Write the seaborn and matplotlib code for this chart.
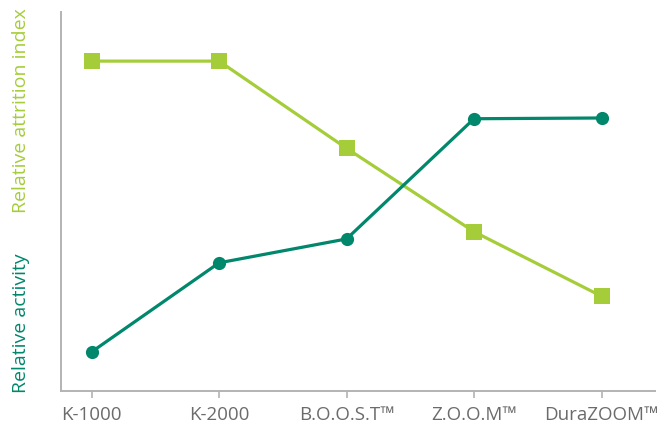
import pandas as pd
import matplotlib
matplotlib.use("Agg")
import matplotlib.pyplot as plt
import seaborn as sns

# ---------------------------
# Data (relative units)
# ---------------------------
products = ["K-1000", "K-2000", "B.O.O.S.T\u2122", "Z.O.O.M\u2122", "DuraZOOM\u2122"]
attrition = [87, 87, 64, 42, 25]
activity = [10.3, 33.8, 40.1, 71.8, 72.0]

lime = "#a5cd39"
teal = "#00876c"
grey_text = "#6b6b6b"
spine_col = "#b3b3b3"

sns.set_style("white")
plt.rcParams["font.family"] = ["Open Sans", "DejaVu Sans"]

fig = plt.figure(figsize=(6.63, 4.27), dpi=100)
ax = fig.add_axes([0.092, 0.082, 0.896, 0.888])

df = pd.DataFrame({"Product": products, "Attrition": attrition, "Activity": activity})

sns.lineplot(data=df, x="Product", y="Attrition", ax=ax, color=lime, linewidth=2.3,
             marker="s", markersize=11, markeredgewidth=0, sort=False)
sns.lineplot(data=df, x="Product", y="Activity", ax=ax, color=teal, linewidth=2.3,
             marker="o", markersize=9.5, markeredgewidth=0, sort=False)

ax.set_xlim(-0.24, 4.42)
ax.set_ylim(0, 100)
ax.set_yticks([])
ax.set_xlabel("")
ax.set_ylabel("")

for side in ["top", "right"]:
    ax.spines[side].set_visible(False)
for side in ["left", "bottom"]:
    ax.spines[side].set_color(spine_col)
    ax.spines[side].set_linewidth(1.4)

ax.tick_params(axis="x", length=5, width=1.2, color=spine_col, colors=grey_text,
               labelsize=13.5, pad=5, bottom=True)
for t in ax.get_xticklabels():
    t.set_color(grey_text)

# two-colour y label
fig.text(0.031, 0.740, "Relative attrition index", rotation=90, color=lime,
         fontsize=14, ha="center", va="center")
fig.text(0.031, 0.243, "Relative activity", rotation=90, color=teal,
         fontsize=14, ha="center", va="center")

plt.savefig("out.png", dpi=100)
